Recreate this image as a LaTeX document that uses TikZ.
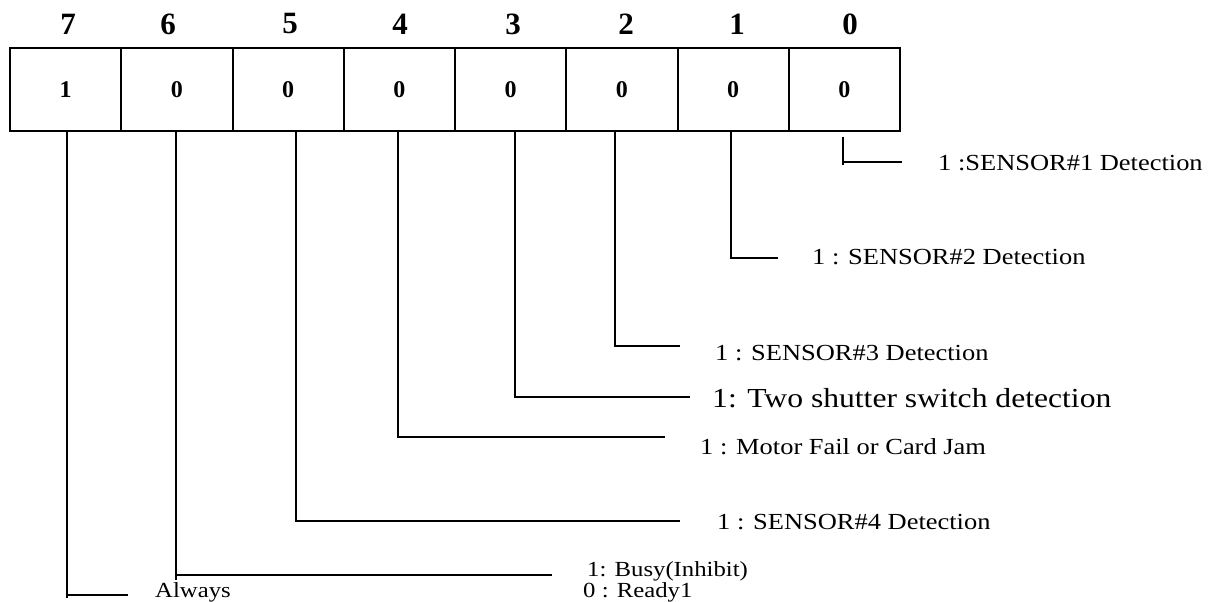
\documentclass[tikz,border=0pt]{standalone}
\usepackage{fontspec}
\setmainfont{Liberation Serif}
\newcommand{\wide}[1]{\scalebox{1.15}[1]{#1}}
\begin{document}
\begin{tikzpicture}[x=1pt,y=-1pt,
  cell/.style={draw,line width=2pt,minimum width=111.25pt,minimum height=83pt,inner sep=0pt,
    font=\fontsize{24}{27}\selectfont\bfseries},
  bitnum/.style={inner sep=0pt,font=\fontsize{31}{36}\selectfont\bfseries},
  lbl/.style={anchor=base west,inner sep=0pt,font=\fontsize{23}{27}\selectfont},
  small/.style={anchor=base west,inner sep=0pt,font=\fontsize{21.5}{25}\selectfont},
  big/.style={anchor=base west,inner sep=0pt,font=\fontsize{27.5}{32}\selectfont},
  conn/.style={line width=1.5pt}]
\useasboundingbox (0,0) rectangle (1221,602);
% cells
\foreach \i/\v [count=\k from 0] in {7/1,6/0,5/0,4/0,3/0,2/0,1/0,0/0}{
  \node[cell] (v\i) at ({10+111.25*(\k+0.5)},89.5) {\v};
}
% bit numbers
\node[bitnum] (b7) at (68,24) {7};
\node[bitnum] (b6) at (168,24) {6};
\node[bitnum] (b5) at (290,24) {5};
\node[bitnum] (b4) at (400,24) {4};
\node[bitnum] (b3) at (513,24) {3};
\node[bitnum] (b2) at (626,24) {2};
\node[bitnum] (b1) at (737,24) {1};
\node[bitnum] (b0) at (850,24) {0};
% labels
\node[lbl] (l0) at (938,170) {\wide{1 :SENSOR\#1 Detection}};
\node[lbl] (l1) at (812,264) {\wide{1 : SENSOR\#2 Detection}};
\node[lbl] (l2) at (715,360) {\wide{1 : SENSOR\#3 Detection}};
\node[big] (l3) at (712,407) {\wide{1: Two shutter switch detection}};
\node[lbl] (l4) at (700,454) {\wide{1 : Motor Fail or Card Jam}};
\node[lbl] (l5) at (717,529) {\wide{1 : SENSOR\#4 Detection}};
\node[small] (l6) at (587,576) {\wide{1: Busy(Inhibit)}};
\node[small] (l6b) at (583,597) {\wide{0 : Ready1}};
\node[small] (l7) at (155,597) {\wide{Always}};
% connector coordinates
\coordinate (s0) at (843,137); \coordinate (k0) at (843,165); \coordinate (e0) at (902,162);
\coordinate (s1) at (731,131); \coordinate (e1) at (778,258);
\coordinate (s2) at (615,131); \coordinate (e2) at (680,346);
\coordinate (s3) at (515,131); \coordinate (e3) at (690,397);
\coordinate (s4) at (398,131); \coordinate (e4) at (665,437);
\coordinate (s5) at (296,131); \coordinate (e5) at (680,521);
\coordinate (s6) at (176,131); \coordinate (k6) at (176,580); \coordinate (e6) at (552,575);
\coordinate (s7) at (67,131); \coordinate (k7) at (67,598); \coordinate (e7) at (128,595);
\draw[conn] (s0) -- (k0);
\draw[conn] (k0 |- e0) -- (e0);
\draw[conn] (s1) |- (e1);
\draw[conn] (s2) |- (e2);
\draw[conn] (s3) |- (e3);
\draw[conn] (s4) |- (e4);
\draw[conn] (s5) |- (e5);
\draw[conn] (s6) -- (k6);
\draw[conn] (k6 |- e6) -- (e6);
\draw[conn] (s7) -- (k7);
\draw[conn] (k7 |- e7) -- (e7);
\end{tikzpicture}
\end{document}
